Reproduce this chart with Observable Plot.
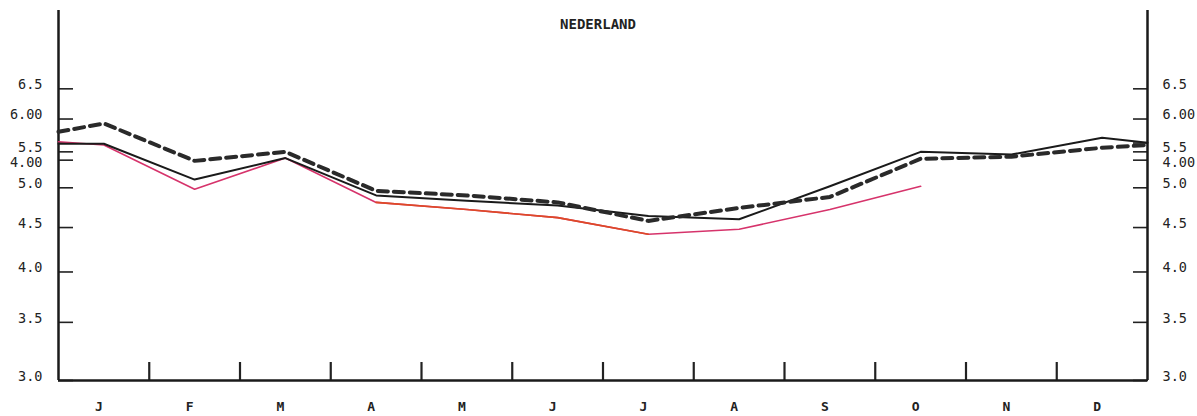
<!DOCTYPE html>
<html><head><meta charset="utf-8">
<script src="https://cdn.jsdelivr.net/npm/d3@7"></script>
<script src="https://cdn.jsdelivr.net/npm/@observablehq/plot@0.6"></script>
<style>body{margin:0;background:#fff}</style>
</head><body><div id="chart"></div>
<script>
const title = "NEDERLAND";
const months = ["J","F","M","A","M","J","J","A","S","O","N","D"];
// values at month centres; edges = values at the left and right frame edge
const solidValues  = [5.62,5.11,5.41,4.90,4.83,4.77,4.64,4.60,5.02,5.50,5.46,5.71];
const solidEdges   = [5.62,5.635];
const pinkValues   = [5.60,4.98,5.41,4.81,4.72,4.62,4.42,4.48,4.72,5.02,null,null];
const pinkEdges    = [5.65,null];
const dashedValues = [5.93,5.37,5.50,4.96,4.90,4.81,4.58,4.74,4.88,5.40,5.43,5.56];
const dashedEdges  = [5.80,5.60];
const orangeMonths = [3,6]; // first/last month index of the red-orange stretch
const yTickValues  = [3,3.5,4,4.5,5,5.5,6,6.5];
const yTickLabels  = ["3.0","3.5","4.0","4.5","5.0","5.5","6.00","6.5"];
const yExtraTicks  = [5.38,5.63];
const yExtraLabels = ["4.00",""];

function series(values, edges) {
  const rows = [];
  if (edges[0] != null) rows.push({x: 0, v: edges[0]});
  values.forEach((v, i) => { if (v != null) rows.push({x: i + 0.5, v, i}); });
  if (edges[1] != null) rows.push({x: months.length, v: edges[1]});
  return rows;
}
const solid = series(solidValues, solidEdges);
const pink = series(pinkValues, pinkEdges);
const orange = pink.filter(d => d.i != null && d.i >= orangeMonths[0] && d.i <= orangeMonths[1]);
const dashed = series(dashedValues, dashedEdges);
const allTicks = yTickValues.concat(yExtraTicks);
const mono = "'DejaVu Sans Mono', monospace";
const lblStyle = "letter-spacing:1.8px";

const chart = Plot.plot({
  width: 1197, height: 416,
  marginLeft: 58, marginRight: 50, marginTop: 10, marginBottom: 36,
  style: {background: "transparent", fontFamily: mono, color: "#222"},
  x: {domain: [0, months.length], axis: null},
  y: {type: "log", domain: [3, 8], axis: null},
  marks: [
    Plot.axisY(allTicks, {anchor: "left", label: null, tickSize: -15, tickFormat: () => "", strokeWidth: 1.6, stroke: "#222"}),
    Plot.axisY(allTicks, {anchor: "right", label: null, tickSize: -15, tickFormat: () => "", strokeWidth: 1.6, stroke: "#222"}),
    Plot.axisX(d3.range(1, months.length), {anchor: "bottom", label: null, tickSize: -18, tickFormat: () => "", strokeWidth: 2.2, stroke: "#222"}),
    Plot.text(yTickValues, {frameAnchor: "left", y: d => d, text: (d, i) => yTickLabels[i], textAnchor: "end", dx: -16, dy: -4, fontSize: 13.5, fill: "#222", style: lblStyle}),
    Plot.text(yTickValues, {frameAnchor: "right", y: d => d, text: (d, i) => yTickLabels[i], textAnchor: "start", dx: 15, dy: -4, fontSize: 13.5, fill: "#222", style: lblStyle}),
    Plot.text(yExtraTicks, {frameAnchor: "left", y: d => d, text: (d, i) => yExtraLabels[i], textAnchor: "end", dx: -16, dy: 3, fontSize: 13.5, fill: "#222", style: lblStyle}),
    Plot.text(yExtraTicks, {frameAnchor: "right", y: d => d, text: (d, i) => yExtraLabels[i], textAnchor: "start", dx: 15, dy: 3, fontSize: 13.5, fill: "#222", style: lblStyle}),
    Plot.text(months, {x: (d, i) => i + 0.5, frameAnchor: "bottom", dy: 30, dx: -5, text: d => d, fontSize: 13, fontWeight: "bold", fill: "#222"}),
    Plot.text([title], {frameAnchor: "top", dy: 9, dx: -5, text: d => d, fontSize: 14, fontWeight: "bold", fill: "#222"}),
    Plot.ruleX([0, months.length], {stroke: "#1a1a1a", strokeWidth: 2.5}),
    Plot.ruleY([3], {stroke: "#1a1a1a", strokeWidth: 2.5}),
    Plot.line(pink, {x: "x", y: "v", stroke: "#d6336b", strokeWidth: 1.6}),
    Plot.line(orange, {x: "x", y: "v", stroke: "#de4a26", strokeWidth: 1.6}),
    Plot.line(solid, {x: "x", y: "v", stroke: "#1a1a1a", strokeWidth: 2}),
    Plot.line(dashed, {x: "x", y: "v", stroke: "#2a2a2a", strokeWidth: 4, strokeDasharray: "10,6"})
  ]
});
document.getElementById("chart").appendChild(chart);
</script>
</body></html>
